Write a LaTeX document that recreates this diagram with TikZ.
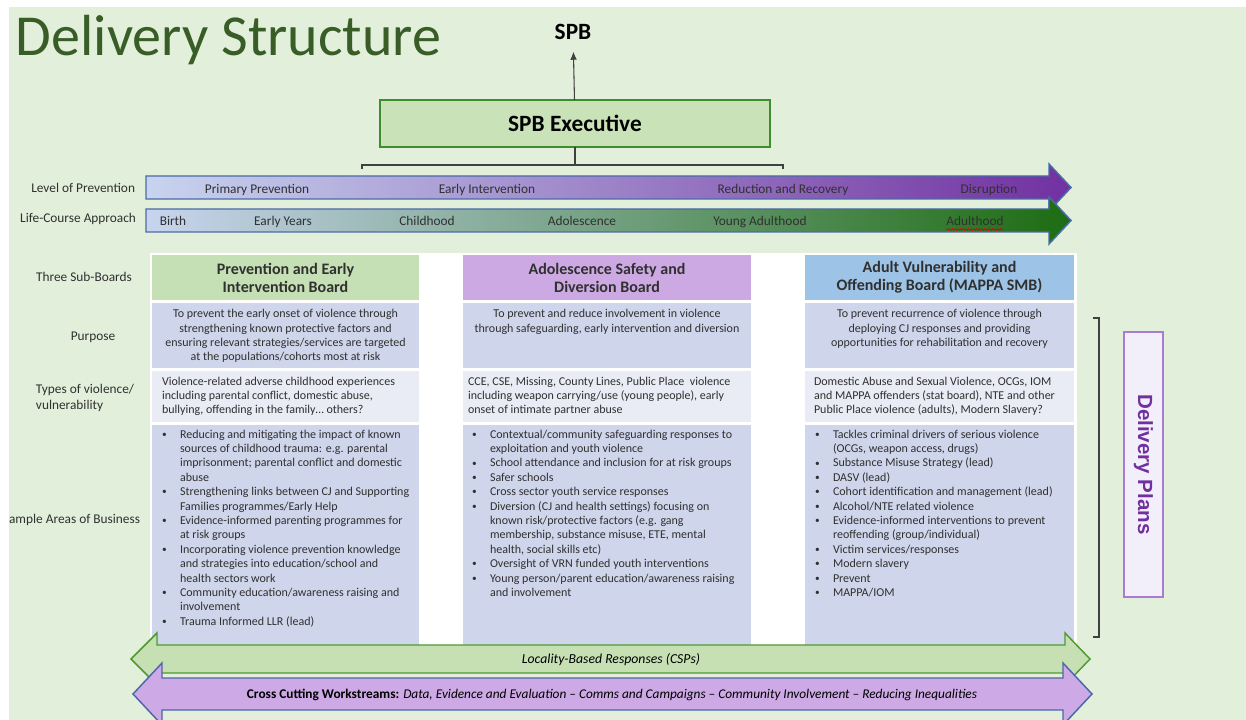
\documentclass[tikz,border=0pt]{standalone}
\usepackage{fontspec}
\setmainfont{Carlito}
\newfontfamily\arialbf{Liberation Sans}
\usetikzlibrary{calc, positioning, arrows.meta, decorations.pathmorphing}

\definecolor{bggreen}{HTML}{E2EFDA}
\definecolor{titlegreen}{HTML}{385D27}
\definecolor{execfill}{HTML}{C9E2B8}
\definecolor{execline}{HTML}{3F8B2E}
\definecolor{barline}{HTML}{4A6BA6}
\definecolor{barblue}{HTML}{C8D4EF}
\definecolor{barmidp}{HTML}{B2AADB}
\definecolor{barpurple}{HTML}{7131A1}
\definecolor{barmidg}{HTML}{A4C0BC}
\definecolor{bargreen}{HTML}{1D6C12}
\definecolor{hdrgreen}{HTML}{C5E0B4}
\definecolor{hdrpurple}{HTML}{CDA9E3}
\definecolor{hdrblue}{HTML}{9DC3E6}
\definecolor{celldark}{HTML}{CFD5EA}
\definecolor{celllight}{HTML}{E9EBF5}
\definecolor{dpfill}{HTML}{F3EFFA}
\definecolor{dpline}{HTML}{A97BD2}
\definecolor{dptext}{HTML}{7030A0}
\definecolor{locfill}{HTML}{C6E0B4}
\definecolor{locline}{HTML}{4E9A31}
\definecolor{cutfill}{HTML}{CDA9E5}
\definecolor{cutline}{HTML}{4B68A9}
\definecolor{txtgrey}{HTML}{303030}
\definecolor{linegrey}{HTML}{404040}

\newcommand{\itm}{\makebox[13.5pt][l]{\raisebox{.5pt}{\fontsize{7}{7}\selectfont\textbullet}}}
\newcommand{\cnt}{\hspace*{13.5pt}}

\begin{document}
\begin{tikzpicture}[x=0.75pt,y=-0.75pt,
  every node/.style={inner sep=0pt,outer sep=0pt,text=txtgrey},
  lbl/.style={font=\fontsize{10}{12}\selectfont,text height=7pt,text depth=2pt},
  bartxt/.style={font=\fontsize{10}{12}\selectfont,text height=7pt,text depth=2pt},
  hdr/.style={fill=#1,minimum height=33.75pt,align=center,font=\bfseries\fontsize{12}{13.5}\selectfont},
  cell/.style={fill=#1},
  purp/.style={align=center,font=\fontsize{9}{10.7}\selectfont},
  kind/.style={align=left,font=\fontsize{9}{10.7}\selectfont},
  list/.style={align=left,font=\fontsize{9}{10.8}\selectfont},
  link/.style={draw=linegrey,line width=0.8pt},
  bar/.style={draw=barline,line width=1.1pt}]

\useasboundingbox (0,0) rectangle (1246,720);
\clip (0,0) rectangle (1246,720);
\fill[bggreen] (9,7) rectangle (1246,720);
\fill[white] (150,253) rectangle (1077,645);

\node[anchor=base west,font=\fontsize{43.5}{48}\selectfont,text=titlegreen] (title) at (16,56) {Delivery Structure};

\node[font=\bfseries\fontsize{17.5}{20}\selectfont,text=black] (spb) at (573,32) {SPB};
\node[draw=execline,fill=execfill,line width=1.2pt,minimum width=292.5pt,minimum height=35.25pt,
  font=\bfseries\fontsize{17.5}{20}\selectfont,text=black] (exec) at (575,123.5) {SPB Executive};
\draw[link,-{Latex[length=6pt,width=5pt]},shorten >=9pt] (exec) -- (spb);

\coordinate (bkl) at (362,165);
\coordinate (bkr) at (783,165);
\draw[link] (exec.south) -- (exec.south |- bkl);
\draw[link] ($(bkl)+(0,4)$) -- (bkl) -- (bkr) -- ++(0,4);

% level of prevention / life course
\shadedraw[bar,left color=barblue,middle color=barmidp,right color=barpurple]
  (146,176) -- (1049,176) -- (1049,164) -- (1071,187.5) -- (1049,211) -- (1049,199) -- (146,199) -- cycle;
\shadedraw[bar,left color=barblue,middle color=barmidg,right color=bargreen]
  (146,209) -- (1049,209) -- (1049,197) -- (1071,220.5) -- (1049,244) -- (1049,232) -- (146,232) -- cycle;

\foreach \x/\t in {257/Primary Prevention,487/Early Intervention,783/Reduction and Recovery,989/Disruption}
  \node[bartxt] (lvl\x) at (\x,190) {\t};
\foreach \x/\t in {173/Birth,283/Early Years,427/Childhood,582/Adolescence,760/Young Adulthood}
  \node[bartxt] (life\x) at (\x,222) {\t};
\node[bartxt] (adult) at (975,222) {Adulthood};
\draw[red!85!black,line width=0.4pt,decorate,decoration={snake,amplitude=0.7pt,segment length=2pt}]
  ($(adult.south west)+(0,1.5)$) -- ($(adult.south east)+(0,1.5)$);

\node[lbl,anchor=east] (lvl label) at (135,189) {Level of Prevention};
\node[lbl,anchor=east] (life label) at (136,219) {Life-Course Approach};
\node[lbl] (board label) at (84,278) {Three Sub-Boards};
\node[lbl] (purpose label) at (93,337) {Purpose};
\node[anchor=west,align=left,font=\fontsize{10}{12}\selectfont] (type label) at (36,398) {Types of violence/\\vulnerability};
\node[lbl,anchor=east] (area label) at (140,520) {ample Areas of Business};

% three sub-boards
\node[hdr=hdrgreen,minimum width=200.25pt] (h1) at (285.5,277.5) {Prevention and Early\\Intervention Board};
\node[hdr=hdrpurple,minimum width=216pt] (h2) at (607,277.5) {Adolescence Safety and\\Diversion Board};
\node[hdr=hdrblue,minimum width=201.75pt] (h3) at (939.5,277.5) {Adult Vulnerability and\\Offending Board (MAPPA SMB)};

\foreach \i/\w in {1/200.25pt,2/216pt,3/201.75pt}{
  \node[cell=celldark,minimum width=\w,minimum height=48.75pt,below=2.25pt of h\i] (p\i) {};
  \node[cell=celllight,minimum width=\w,minimum height=38.25pt,below=2.25pt of p\i] (t\i) {};
  \node[cell=celldark,minimum width=\w,minimum height=165pt,below=2.25pt of t\i] (a\i) {};
}

\node[purp,below=5pt of p1.north] (p1 txt) {To prevent the early onset of violence through\\strengthening known protective factors and\\ensuring relevant strategies/services are targeted\\at the populations/cohorts most at risk};
\node[purp,below=5pt of p2.north] (p2 txt) {To prevent and reduce involvement in violence\\through safeguarding, early intervention and diversion};
\node[purp,below=5pt of p3.north] (p3 txt) {To prevent recurrence of violence through\\deploying CJ responses and providing\\opportunities for rehabilitation and recovery};

\node[kind,right=7.5pt of t1.west] (t1 txt) {Violence-related adverse childhood experiences\\including parental conflict, domestic abuse,\\bullying, offending in the family… others?};
\node[kind,right=3.75pt of t2.west] (t2 txt) {CCE, CSE, Missing, County Lines, Public Place\ \ violence\\including weapon carrying/use (young people), early\\onset of intimate partner abuse};
\node[kind,right=6.75pt of t3.west] (t3 txt) {Domestic Abuse and Sexual Violence, OCGs, IOM\\and MAPPA offenders (stat board), NTE and other\\Public Place violence (adults), Modern Slavery?};

\node[list,below right=3.5pt and 7.5pt of a1.north west] (a1 txt) {%
\itm Reducing and mitigating the impact of known\\
\cnt sources of childhood trauma: e.g. parental\\
\cnt imprisonment; parental conflict and domestic\\
\cnt abuse\\
\itm Strengthening links between CJ and Supporting\\
\cnt Families programmes/Early Help\\
\itm Evidence-informed parenting programmes for\\
\cnt at risk groups\\
\itm Incorporating violence prevention knowledge\\
\cnt and strategies into education/school and\\
\cnt health sectors work\\
\itm Community education/awareness raising and\\
\cnt involvement\\
\itm Trauma Informed LLR (lead)};
\node[list,below right=3.5pt and 6.75pt of a2.north west] (a2 txt) {%
\itm Contextual/community safeguarding responses to\\
\cnt exploitation and youth violence\\
\itm School attendance and inclusion for at risk groups\\
\itm Safer schools\\
\itm Cross sector youth service responses\\
\itm Diversion (CJ and health settings) focusing on\\
\cnt known risk/protective factors (e.g. gang\\
\cnt membership, substance misuse, ETE, mental\\
\cnt health, social skills etc)\\
\itm Oversight of VRN funded youth interventions\\
\itm Young person/parent education/awareness raising\\
\cnt and involvement};
\node[list,below right=3.5pt and 7.5pt of a3.north west] (a3 txt) {%
\itm Tackles criminal drivers of serious violence\\
\cnt (OCGs, weapon access, drugs)\\
\itm Substance Misuse Strategy (lead)\\
\itm DASV (lead)\\
\itm Cohort identification and management (lead)\\
\itm Alcohol/NTE related violence\\
\itm Evidence-informed interventions to prevent\\
\cnt reoffending (group/individual)\\
\itm Victim services/responses\\
\itm Modern slavery\\
\itm Prevent\\
\itm MAPPA/IOM};

% delivery plans
\coordinate (bt) at (1099,318);
\coordinate (bb) at (1099,637);
\draw[link] ($(bt)+(-6,0)$) -- (bt) -- (bb) -- ++(-6,0);
\node[draw=dpline,fill=dpfill,line width=0.9pt,rotate=-90,minimum width=198.75pt,minimum height=29.25pt,
  font=\arialbf\bfseries\fontsize{15.4}{18}\selectfont,text=dptext] (dp) at (1143.5,464.5) {Delivery Plans};

% cross cutting arrows
\draw[draw=locline,fill=locfill,line width=1.1pt]
  (131,659) -- (157,633) -- (157,645) -- (1065,645) -- (1065,633) -- (1090,659)
  -- (1065,685) -- (1065,673) -- (157,673) -- (157,685) -- cycle;
\node[font=\itshape\fontsize{10.3}{12}\selectfont,text=black] (loc) at (611,660) {Locality-Based Responses (CSPs)};
\draw[draw=cutline,fill=cutfill,line width=1.1pt]
  (133,694) -- (162,663) -- (162,678) -- (1063,678) -- (1063,663) -- (1092,694)
  -- (1063,725) -- (1063,710) -- (162,710) -- (162,725) -- cycle;
\node[font=\fontsize{10}{12}\selectfont,text=black] (cut) at (612,695) {\textbf{Cross Cutting Workstreams:} \textit{Data, Evidence and Evaluation – Comms and Campaigns – Community Involvement – Reducing Inequalities}};
\end{tikzpicture}
\end{document}
